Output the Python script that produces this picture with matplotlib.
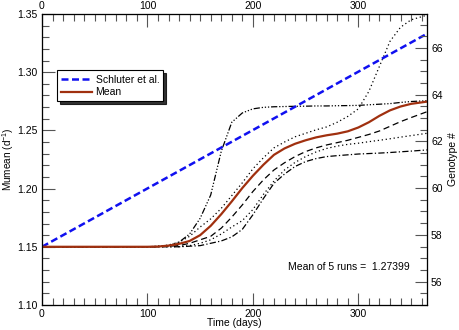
import matplotlib
matplotlib.use("Agg")
import matplotlib.pyplot as plt
from matplotlib.ticker import MultipleLocator

plt.rcParams['font.family'] = ['Liberation Sans', 'DejaVu Sans']
plt.rcParams['font.size'] = 7.5
plt.rcParams['mathtext.fontset'] = 'custom'
plt.rcParams['mathtext.rm'] = 'Liberation Sans'

# days at which the curves were read
days = [0, 100, 110, 120, 130, 140, 150, 160, 170, 180, 190, 200, 210, 220, 230,
        240, 250, 260, 270, 280, 290, 300, 310, 320, 330, 340, 350, 365]

run_fast = [1.150, 1.150, 1.1505, 1.151, 1.154, 1.161, 1.1745, 1.1945, 1.232, 1.257,
            1.265, 1.2685, 1.2698, 1.2703, 1.2705, 1.2707, 1.2708, 1.271, 1.271, 1.2712,
            1.2713, 1.2715, 1.272, 1.2725, 1.273, 1.274, 1.2748, 1.2755]
run_high = [1.150, 1.150, 1.1505, 1.1515, 1.154, 1.159, 1.167, 1.174, 1.183, 1.194,
            1.205, 1.217, 1.2265, 1.235, 1.240, 1.2445, 1.2475, 1.2505, 1.253, 1.257,
            1.262, 1.2685, 1.2835, 1.305, 1.3265, 1.3386, 1.345, 1.349]
run_dash = [1.150, 1.150, 1.150, 1.1505, 1.151, 1.153, 1.156, 1.159, 1.166, 1.1755,
            1.186, 1.1975, 1.2075, 1.216, 1.2222, 1.2275, 1.2318, 1.235, 1.2375, 1.2395,
            1.2415, 1.244, 1.2465, 1.2495, 1.2535, 1.2575, 1.261, 1.266]
run_low = [1.150, 1.150, 1.150, 1.150, 1.1502, 1.151, 1.153, 1.156, 1.161, 1.167,
           1.1725, 1.182, 1.195, 1.2065, 1.216, 1.2225, 1.2275, 1.2315, 1.2345, 1.2365,
           1.238, 1.239, 1.2403, 1.2415, 1.2428, 1.2442, 1.2455, 1.2475]
run_lowest = [1.150, 1.150, 1.150, 1.150, 1.150, 1.1505, 1.151, 1.153, 1.155, 1.1585,
              1.165, 1.1775, 1.1915, 1.2045, 1.2125, 1.219, 1.2232, 1.2258, 1.2275, 1.2283,
              1.229, 1.2297, 1.2301, 1.2305, 1.231, 1.2316, 1.2322, 1.2332]
mean_run = [1.150, 1.150, 1.1502, 1.151, 1.1525, 1.155, 1.160, 1.168, 1.178, 1.189,
            1.2005, 1.211, 1.2205, 1.229, 1.2345, 1.2385, 1.2415, 1.244, 1.2458, 1.2472,
            1.2492, 1.2525, 1.257, 1.2625, 1.2672, 1.2705, 1.2728, 1.2747]

schluter_days = [0, 365]
schluter = [1.150, 1.333]

mean_text = "Mean of 5 runs =  1.27399"

fig = plt.figure(figsize=(4.59, 3.30), dpi=100)
ax = fig.add_axes([0.0915, 0.0758, 0.8385, 0.8818])

grey = '#555555'
ax.plot(days, run_fast, color='black', lw=0.9, dashes=(5, 1.5, 1, 1.5, 1, 1.5, 1, 1.5))
ax.plot(days, run_high, color='black', lw=0.9, dashes=(1, 2.2))
ax.plot(days, run_dash, color='black', lw=0.9, dashes=(5, 3))
ax.plot(days, run_low, color='black', lw=0.9, dashes=(1, 2.2))
ax.plot(days, run_lowest, color='black', lw=0.9, dashes=(5, 1.8, 1, 1.8))
l1, = ax.plot(schluter_days, schluter, color='#1010f0', lw=1.8, dashes=(2.8, 1.4),
              label='Schluter et al.')
l2, = ax.plot(days, mean_run, color='#a0300f', lw=1.6, label='Mean')

ax.set_xlim(0, 365)
ax.set_ylim(1.10, 1.35)
ax.xaxis.set_major_locator(MultipleLocator(100))
ax.xaxis.set_minor_locator(MultipleLocator(10))
ax.yaxis.set_major_locator(MultipleLocator(0.05))
ax.yaxis.set_minor_locator(MultipleLocator(0.01))
ax.yaxis.set_major_formatter(plt.FormatStrFormatter('%.2f'))
ax.tick_params(which='major', direction='in', length=9, width=0.8, color=grey, pad=3)
ax.tick_params(which='minor', direction='in', length=5, width=0.8, color=grey)
ax.set_xlabel('Time (days)')
ax.set_ylabel('Mumean (d$^{-1}$)', fontsize=7.2)
ax.xaxis.set_label_coords(0.5, -0.045)
ax.yaxis.set_label_coords(-0.068, 0.5)
for s in ax.spines.values():
    s.set_color(grey)

ax.text(349, 1.133, mean_text, ha='right', va='center')

leg = ax.legend(handles=[l1, l2], loc='upper left', bbox_to_anchor=(0.039, 0.806),
                fancybox=False, shadow={'color': 'black', 'alpha': 0.8},
                edgecolor='black', framealpha=1, borderpad=0.4,
                handlelength=3.0, handletextpad=0.3, labelspacing=0.25,
                borderaxespad=0)
leg.get_frame().set_linewidth(0.8)

top = ax.twiny()
top.set_xlim(0, 365)
top.xaxis.set_major_locator(MultipleLocator(100))
top.xaxis.set_minor_locator(MultipleLocator(10))
top.tick_params(which='major', direction='in', length=9, width=0.8, color=grey, pad=2)
top.tick_params(which='minor', direction='in', length=5, width=0.8, color=grey)

right = ax.twinx()
right.set_ylim(55, 67.45)
right.yaxis.set_major_locator(MultipleLocator(2))
right.yaxis.set_minor_locator(MultipleLocator(0.5))
right.tick_params(which='major', direction='in', length=9, width=0.8, color=grey, pad=3)
right.tick_params(which='minor', direction='in', length=5, width=0.8, color=grey)
right.set_ylabel('Genotype #', labelpad=4)

fig.savefig('out.png', dpi=100)
